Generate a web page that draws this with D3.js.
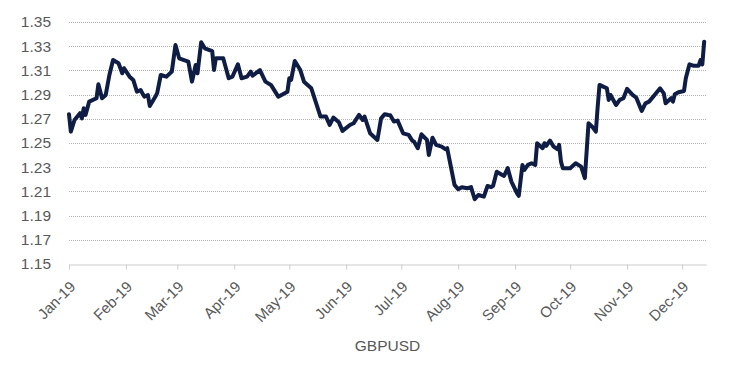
<!DOCTYPE html>
<html>
<head>
<meta charset="utf-8">
<script src="https://cdn.jsdelivr.net/npm/d3@7"></script>
<style>
  body { margin: 0; background: #fff; }
  text { font-family: "Liberation Sans", Arial, sans-serif; fill: #595959; }
</style>
</head>
<body>
<div id="chart"></div>
<script>
// GBPUSD daily close 2019
const dates = [
  "2019-01-01","2019-01-02","2019-01-04","2019-01-07","2019-01-08","2019-01-09","2019-01-10","2019-01-12",
  "2019-01-16","2019-01-17","2019-01-19","2019-01-21","2019-01-23","2019-01-25","2019-01-28","2019-01-30",
  "2019-01-31","2019-02-03","2019-02-05","2019-02-07","2019-02-09","2019-02-11","2019-02-13","2019-02-14",
  "2019-02-17","2019-02-18","2019-02-20","2019-02-23","2019-02-26","2019-02-28","2019-03-02","2019-03-07",
  "2019-03-09","2019-03-11","2019-03-12","2019-03-14","2019-03-16","2019-03-20","2019-03-21","2019-03-22",
  "2019-03-26","2019-03-29","2019-03-31","2019-04-03","2019-04-05","2019-04-08","2019-04-10","2019-04-11",
  "2019-04-15","2019-04-18","2019-04-21","2019-04-25","2019-04-30","2019-05-01","2019-05-02","2019-05-04",
  "2019-05-07","2019-05-09","2019-05-13","2019-05-18","2019-05-21","2019-05-23","2019-05-25","2019-05-28",
  "2019-05-30","2019-06-03","2019-06-05","2019-06-08","2019-06-10","2019-06-11","2019-06-14","2019-06-18",
  "2019-06-20","2019-06-22","2019-06-24","2019-06-25","2019-06-27","2019-06-29","2019-07-02","2019-07-05",
  "2019-07-07","2019-07-08","2019-07-10","2019-07-12","2019-07-15","2019-07-16","2019-07-18","2019-07-20",
  "2019-07-23","2019-07-25","2019-07-26","2019-07-30","2019-08-01","2019-08-03","2019-08-06","2019-08-08",
  "2019-08-10","2019-08-12","2019-08-15","2019-08-17","2019-08-19","2019-08-20","2019-08-22","2019-08-25",
  "2019-08-26","2019-08-28","2019-08-30","2019-09-02","2019-09-03","2019-09-05","2019-09-06","2019-09-08",
  "2019-09-10","2019-09-12","2019-09-13","2019-09-16","2019-09-17","2019-09-18","2019-09-20","2019-09-22",
  "2019-09-24","2019-09-25","2019-09-26","2019-09-27","2019-10-01","2019-10-04","2019-10-07","2019-10-09",
  "2019-10-11","2019-10-13","2019-10-15","2019-10-16","2019-10-17","2019-10-19","2019-10-21","2019-10-22",
  "2019-10-23","2019-10-26","2019-10-28","2019-10-30","2019-11-01","2019-11-04","2019-11-06","2019-11-09",
  "2019-11-11","2019-11-13","2019-11-16","2019-11-19","2019-11-21","2019-11-22","2019-11-25","2019-11-26",
  "2019-11-27","2019-11-29","2019-12-02","2019-12-03","2019-12-05","2019-12-07","2019-12-10","2019-12-11",
  "2019-12-12","2019-12-13"
];
const gbpusd = [
  1.2738,1.2594,1.2690,1.2746,1.2704,1.2787,1.2732,1.2842,
  1.2870,1.2985,1.2870,1.2897,1.3062,1.3186,1.3159,1.3076,
  1.3118,1.3048,1.3021,1.2924,1.2938,1.2883,1.2897,1.2806,
  1.2883,1.2910,1.3062,1.3048,1.3090,1.3310,1.3200,1.3172,
  1.3007,1.3145,1.3076,1.3332,1.3283,1.3260,1.3103,1.3200,
  1.3200,1.3035,1.3048,1.3150,1.3035,1.3048,1.3090,1.3056,
  1.3103,1.3007,1.2980,1.2883,1.2924,1.3035,1.3021,1.3178,
  1.3103,1.3007,1.2952,1.2718,1.2718,1.2649,1.2710,1.2671,
  1.2600,1.2649,1.2663,1.2732,1.2690,1.2718,1.2581,1.2525,
  1.2704,1.2738,1.2732,1.2730,1.2677,1.2685,1.2580,1.2567,
  1.2520,1.2510,1.2457,1.2572,1.2525,1.2401,1.2544,1.2484,
  1.2470,1.2449,1.2457,1.2154,1.2118,1.2135,1.2126,1.2135,
  1.2035,1.2070,1.2057,1.2145,1.2135,1.2145,1.2263,1.2236,
  1.2228,1.2292,1.2181,1.2085,1.2063,1.2319,1.2277,1.2319,
  1.2333,1.2319,1.2498,1.2457,1.2498,1.2476,1.2520,1.2470,
  1.2449,1.2484,1.2346,1.2292,1.2292,1.2333,1.2305,1.2209,
  1.2663,1.2635,1.2594,1.2800,1.2980,1.2966,1.2952,1.2856,
  1.2897,1.2814,1.2856,1.2870,1.2947,1.2897,1.2875,1.2765,
  1.2828,1.2842,1.2897,1.2952,1.2910,1.2828,1.2870,1.2842,
  1.2903,1.2919,1.2930,1.3035,1.3150,1.3139,1.3139,1.3186,
  1.3150,1.3337
];
const monthTicks = ["2019-01-01","2019-02-01","2019-03-01","2019-04-01","2019-05-01","2019-06-01",
                    "2019-07-01","2019-08-01","2019-09-01","2019-10-01","2019-11-01","2019-12-01"];
const yTicks = [1.15, 1.17, 1.19, 1.21, 1.23, 1.25, 1.27, 1.29, 1.31, 1.33, 1.35];
const seriesName = "GBPUSD";

const parse = d3.utcParse("%Y-%m-%d");
const data = dates.map((d, i) => ({date: parse(d), value: gbpusd[i]}));

const W = 741, H = 379;
const margin = {top: 22, right: 35, bottom: 115, left: 69};
const width = W - margin.left - margin.right,
      height = H - margin.top - margin.bottom;

const x = d3.scaleUtc()
    .domain([parse("2019-01-01"), parse("2019-12-14")])
    .range([0, width]);

const y = d3.scaleLinear()
    .domain([1.15, 1.35])
    .range([height, 0]);

const svg = d3.select("#chart").append("svg")
    .attr("width", W)
    .attr("height", H)
  .append("g")
    .attr("transform", `translate(${margin.left},${margin.top})`);

// horizontal grid lines (dotted)
svg.append("g")
    .selectAll("line")
    .data(yTicks.slice(1))
  .enter().append("line")
    .attr("x1", 0)
    .attr("x2", width)
    .attr("y1", d => Math.round(y(d)) + 0.5)
    .attr("y2", d => Math.round(y(d)) + 0.5)
    .attr("stroke", "#b3b3b3")
    .attr("stroke-width", 1)
    .attr("stroke-dasharray", "1,1");

// y axis labels
svg.append("g")
    .call(d3.axisLeft(y).tickValues(yTicks).tickFormat(d3.format(".2f")).tickSize(0).tickPadding(18))
    .call(g => g.select(".domain").remove())
    .call(g => g.selectAll("text")
        .attr("font-size", 15.5)
        .attr("font-family", "Liberation Sans, Arial, sans-serif")
        .attr("fill", "#595959"));

// x axis
const xAxis = svg.append("g")
    .attr("transform", `translate(0,${Math.round(height) + 0.5})`)
    .call(d3.axisBottom(x)
        .tickValues(monthTicks.map(parse))
        .tickFormat(d3.utcFormat("%b-%y"))
        .tickSize(5)
        .tickSizeOuter(0));
xAxis.select(".domain").attr("stroke", "#cccccc");
xAxis.selectAll(".tick line").attr("stroke", "#cccccc");
xAxis.selectAll("text")
    .attr("font-size", 15)
    .attr("font-family", "Liberation Sans, Arial, sans-serif")
    .attr("fill", "#595959")
    .attr("text-anchor", "end")
    .attr("transform", "translate(4,2) rotate(-45)")
    .attr("dx", -13)
    .attr("dy", "0.6em");

// the line
svg.append("path")
    .datum(data)
    .attr("fill", "none")
    .attr("stroke", "#0f1d45")
    .attr("stroke-width", 4)
    .attr("stroke-linejoin", "round")
    .attr("stroke-linecap", "round")
    .attr("d", d3.line().x(d => x(d.date)).y(d => y(d.value)));

// series title below axis
svg.append("text")
    .attr("x", width / 2)
    .attr("y", height + 87)
    .attr("text-anchor", "middle")
    .attr("font-size", 15.5)
    .attr("fill", "#595959")
    .text(seriesName);
</script>
</body>
</html>
